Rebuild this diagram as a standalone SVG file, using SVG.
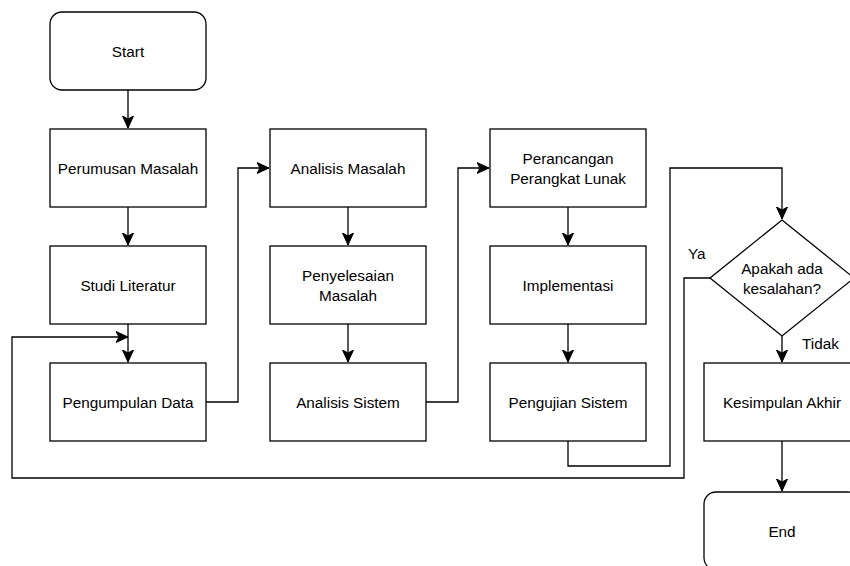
<svg xmlns="http://www.w3.org/2000/svg" width="850" height="566" viewBox="0 0 850 566">
<style>
.b{fill:#fff;stroke:#000;stroke-width:1.3}
.t{font-family:"Liberation Sans",Arial,Helvetica,sans-serif;font-size:15.3px;fill:#000;text-anchor:middle;dominant-baseline:central}
.l{font-family:"Liberation Sans",Arial,Helvetica,sans-serif;font-size:15.3px;fill:#000;dominant-baseline:central}
.c{fill:none;stroke:#000;stroke-width:1.3;marker-end:url(#ah)}
</style>
<defs>
<marker id="ah" markerUnits="userSpaceOnUse" markerWidth="14" markerHeight="14" viewBox="0 0 14 14" refX="12" refY="7" orient="auto">
<path d="M0,1.5 L12,7 L0,12.5 L3,7 Z" fill="#000" stroke="#000" stroke-width="1"/>
</marker>
</defs>
<rect width="850" height="566" fill="#fff"/>
<g id="connectors">
<path class="c" d="M128,90 V128"/>
<path class="c" d="M128,207 V245"/>
<path class="c" d="M128,324 V362"/>
<path class="c" d="M206,402 H238 V168 H269"/>
<path class="c" d="M348,207 V245"/>
<path class="c" d="M348,324 V362"/>
<path class="c" d="M426,402 H458 V168 H489"/>
<path class="c" d="M568,207 V245"/>
<path class="c" d="M568,324 V362"/>
<path class="c" d="M568,441 V466 H670 V168 H782 V219"/>
<path class="c" d="M710,278 H684 V478 H12 V337 H128"/>
<path class="c" d="M782,336 V362"/>
<path class="c" d="M782,441 V491"/>
</g>
<g id="start"><rect class="b" x="50" y="12" width="156" height="78" rx="12"/><text class="t" x="128" y="51">Start</text></g>
<g id="perumusan"><rect class="b" x="50" y="129" width="156" height="78"/><text class="t" x="128" y="168">Perumusan Masalah</text></g>
<g id="studi"><rect class="b" x="50" y="246" width="156" height="78"/><text class="t" x="128" y="285">Studi Literatur</text></g>
<g id="pengumpulan"><rect class="b" x="50" y="363" width="156" height="78"/><text class="t" x="128" y="402">Pengumpulan Data</text></g>
<g id="analisis-masalah"><rect class="b" x="270" y="129" width="156" height="78"/><text class="t" x="348" y="168">Analisis Masalah</text></g>
<g id="penyelesaian"><rect class="b" x="270" y="246" width="156" height="78"/><text class="t" x="348" y="275">Penyelesaian</text><text class="t" x="348" y="295">Masalah</text></g>
<g id="analisis-sistem"><rect class="b" x="270" y="363" width="156" height="78"/><text class="t" x="348" y="402">Analisis Sistem</text></g>
<g id="perancangan"><rect class="b" x="490" y="129" width="156" height="78"/><text class="t" x="568" y="158">Perancangan</text><text class="t" x="568" y="178">Perangkat Lunak</text></g>
<g id="implementasi"><rect class="b" x="490" y="246" width="156" height="78"/><text class="t" x="568" y="285">Implementasi</text></g>
<g id="pengujian"><rect class="b" x="490" y="363" width="156" height="78"/><text class="t" x="568" y="402">Pengujian Sistem</text></g>
<g id="keputusan"><polygon class="b" points="782,220 854,278 782,336 710,278"/><text class="t" x="782" y="268">Apakah ada</text><text class="t" x="782" y="288">kesalahan?</text></g>
<g id="kesimpulan"><rect class="b" x="704" y="363" width="156" height="78"/><text class="t" x="782" y="402">Kesimpulan Akhir</text></g>
<g id="end"><rect class="b" x="704" y="492" width="156" height="78" rx="12"/><text class="t" x="782" y="531">End</text></g>
<g id="labels"><text class="l" x="688" y="253">Ya</text><text class="l" x="802" y="343">Tidak</text></g>
</svg>
